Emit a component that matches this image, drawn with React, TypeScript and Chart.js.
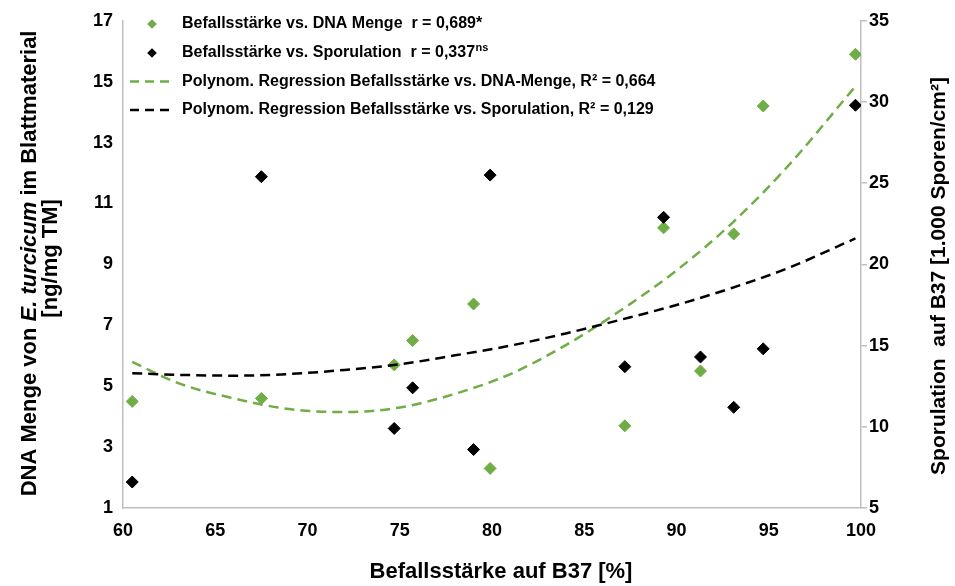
import React, { useEffect, useRef } from 'react';
import { Chart, registerables } from 'chart.js';

Chart.register(...registerables);

// ---------- data ----------
const befall = [60.5, 67.5, 74.7, 75.7, 79.0, 79.9, 87.2, 89.3, 91.3, 93.1, 94.7, 99.7];
const dnaMenge = [4.5, 4.6, 5.7, 6.5, 7.7, 2.3, 3.7, 10.2, 5.5, 10.0, 14.2, 15.9];
const sporulation = [6.6, 25.4, 9.9, 12.4, 8.6, 25.5, 13.7, 22.9, 14.3, 11.2, 14.8, 29.8];

const trendX = [60.5, 63, 66, 69, 72, 75, 78, 81, 84, 87, 90, 93, 96, 99.7];
const trendDna = [5.8, 5.1, 4.6, 4.25, 4.15, 4.3, 4.75, 5.4, 6.35, 7.5, 8.8, 10.35, 12.2, 14.85];
const trendSpor = [13.3, 13.2, 13.15, 13.25, 13.5, 13.85, 14.4, 15.0, 15.75, 16.6, 17.5, 18.55, 19.75, 21.6];

const xTickValues = [60, 65, 70, 75, 80, 85, 90, 95, 100];
const yLeftTicks = [1, 3, 5, 7, 9, 11, 13, 15, 17];
const yRightTicks = [5, 10, 15, 20, 25, 30, 35];

const xTitle = 'Befallsstärke auf B37 [%]';
const yLeftTitle1 = [
  { t: 'DNA Menge von ', italic: false },
  { t: 'E. turcicum', italic: true },
  { t: ' im Blattmaterial', italic: false },
];
const yLeftTitle2 = '[ng/mg TM]';
const yRightTitle = 'Sporulation  auf B37 [1.000 Sporen/cm²]';

const legendItems = [
  { kind: 'point', color: '#70AD47', text: 'Befallsstärke vs. DNA Menge  r = 0,689*', sup: '' },
  { kind: 'point', color: '#000000', text: 'Befallsstärke vs. Sporulation  r = 0,337', sup: 'ns' },
  { kind: 'line', color: '#70AD47', text: 'Polynom. Regression Befallsstärke vs. DNA-Menge, R² = 0,664', sup: '' },
  { kind: 'line', color: '#000000', text: 'Polynom. Regression Befallsstärke vs. Sporulation, R² = 0,129', sup: '' },
];

// ---------- styling ----------
const FONT = '"Liberation Sans", Arial, Helvetica, sans-serif';
const GREEN = '#70AD47';
const AXIS = '#BFBFBF';
const DASH = [10, 6];

const titlesPlugin = {
  id: 'customTitles',
  afterDraw(chart: any) {
    const ctx = chart.ctx as CanvasRenderingContext2D;
    const ca = chart.chartArea;
    ctx.save();
    ctx.fillStyle = '#000';
    ctx.textBaseline = 'middle';

    // x title
    ctx.font = `bold 22px ${FONT}`;
    ctx.textAlign = 'center';
    ctx.fillText(xTitle, (ca.left + ca.right) / 2 + 9, 572);

    // left title (two lines, rotated)
    ctx.save();
    ctx.translate(30, (ca.top + ca.bottom) / 2 - 1);
    ctx.rotate(-Math.PI / 2);
    ctx.textAlign = 'left';
    let total = 0;
    const widths = yLeftTitle1.map((s) => {
      ctx.font = `${s.italic ? 'italic ' : ''}bold 22px ${FONT}`;
      const w = ctx.measureText(s.t).width;
      total += w;
      return w;
    });
    let cx = -total / 2;
    yLeftTitle1.forEach((s, i) => {
      ctx.font = `${s.italic ? 'italic ' : ''}bold 22px ${FONT}`;
      ctx.fillText(s.t, cx, 0);
      cx += widths[i];
    });
    ctx.font = `bold 22px ${FONT}`;
    ctx.textAlign = 'center';
    ctx.fillText(yLeftTitle2, 5, 21);
    ctx.restore();

    // right title
    ctx.save();
    ctx.translate(939, 276);
    ctx.rotate(-Math.PI / 2);
    ctx.font = `bold 21px ${FONT}`;
    ctx.textAlign = 'center';
    ctx.fillText(yRightTitle, 0, 0);
    ctx.restore();

    // legend
    const lx = 152;
    const tx = 182;
    const rows = [24, 53, 81.5, 110];
    legendItems.forEach((it, i) => {
      const y = rows[i];
      ctx.fillStyle = it.color;
      ctx.strokeStyle = it.color;
      if (it.kind === 'point') {
        const r = 4.8;
        ctx.beginPath();
        ctx.moveTo(lx, y - r);
        ctx.lineTo(lx + r, y);
        ctx.lineTo(lx, y + r);
        ctx.lineTo(lx - r, y);
        ctx.closePath();
        ctx.fill();
      } else {
        ctx.lineWidth = 2.5;
        ctx.setLineDash([9, 6]);
        ctx.beginPath();
        ctx.moveTo(130, y);
        ctx.lineTo(170, y);
        ctx.stroke();
        ctx.setLineDash([]);
      }
      ctx.fillStyle = '#000';
      ctx.font = `bold 16px ${FONT}`;
      ctx.textAlign = 'left';
      ctx.fillText(it.text, tx, y);
      if (it.sup) {
        const w = ctx.measureText(it.text).width;
        ctx.font = `bold 11px ${FONT}`;
        ctx.fillText(it.sup, tx + w + 0.5, y - 5);
      }
    });
    ctx.restore();
  },
};

export default function App() {
  const ref = useRef<HTMLCanvasElement>(null);

  useEffect(() => {
    if (!ref.current) return;
    const tickFont = { family: FONT, size: 18, weight: 'bold' as const };
    const chart = new Chart(ref.current, {
      type: 'scatter',
      data: {
        datasets: [
          {
            label: 'Polynom. Regression Befallsstärke vs. Sporulation',
            data: trendX.map((x, i) => ({ x, y: trendSpor[i] })),
            yAxisID: 'y1',
            showLine: true,
            borderColor: '#000',
            borderWidth: 2.5,
            borderDash: DASH,
            pointRadius: 0,
            cubicInterpolationMode: 'monotone',
            order: 0,
          },
          {
            label: 'Polynom. Regression Befallsstärke vs. DNA-Menge',
            data: trendX.map((x, i) => ({ x, y: trendDna[i] })),
            yAxisID: 'y',
            showLine: true,
            borderColor: GREEN,
            borderWidth: 2.5,
            borderDash: DASH,
            pointRadius: 0,
            cubicInterpolationMode: 'monotone',
            order: 1,
          },
          {
            label: 'Befallsstärke vs. Sporulation',
            data: befall.map((x, i) => ({ x, y: sporulation[i] })),
            yAxisID: 'y1',
            pointStyle: 'rectRot',
            pointRadius: 6,
            pointBackgroundColor: '#000',
            pointBorderColor: '#000',
            pointBorderWidth: 1,
            order: 2,
          },
          {
            label: 'Befallsstärke vs. DNA Menge',
            data: befall.map((x, i) => ({ x, y: dnaMenge[i] })),
            yAxisID: 'y',
            pointStyle: 'rectRot',
            pointRadius: 6,
            pointBackgroundColor: GREEN,
            pointBorderColor: GREEN,
            pointBorderWidth: 1,
            order: 3,
          },
        ],
      },
      options: {
        animation: false,
        responsive: false,
        layout: { padding: { top: 20, left: 0, right: 0, bottom: 0 } },
        plugins: {
          legend: { display: false },
          tooltip: { enabled: false },
          title: { display: false },
        },
        scales: {
          x: {
            type: 'linear',
            position: 'bottom',
            min: 60,
            max: 100,
            afterBuildTicks: (s: any) => {
              s.ticks = xTickValues.map((v) => ({ value: v }));
            },
            afterFit: (s: any) => {
              s.height = 78;
            },
            grid: { display: false, drawTicks: false },
            border: { display: true, color: AXIS, width: 1.5 },
            ticks: { color: '#000', font: tickFont, padding: 12, maxRotation: 0 },
          },
          y: {
            type: 'linear',
            position: 'left',
            min: 1,
            max: 17,
            afterBuildTicks: (s: any) => {
              s.ticks = yLeftTicks.map((v) => ({ value: v }));
            },
            afterFit: (s: any) => {
              s.width = 123;
            },
            grid: { display: false, drawTicks: false },
            border: { display: true, color: AXIS, width: 1.5 },
            ticks: { color: '#000', font: tickFont, padding: 10 },
          },
          y1: {
            type: 'linear',
            position: 'right',
            min: 5,
            max: 35,
            afterBuildTicks: (s: any) => {
              s.ticks = yRightTicks.map((v) => ({ value: v }));
            },
            afterFit: (s: any) => {
              s.width = 94;
            },
            grid: {
              display: true,
              drawOnChartArea: false,
              drawTicks: true,
              tickLength: 6,
              color: AXIS,
              lineWidth: 1.5,
            },
            border: { display: true, color: AXIS, width: 1.5 },
            ticks: { color: '#000', font: tickFont, padding: 2 },
          },
        },
      },
      plugins: [titlesPlugin],
    } as any);
    return () => chart.destroy();
  }, []);

  return (
    <div style={{ position: 'absolute', left: 0, top: 0, width: 955, height: 586, background: '#fff' }}>
      <canvas ref={ref} width={955} height={586} style={{ display: 'block' }} />
    </div>
  );
}
